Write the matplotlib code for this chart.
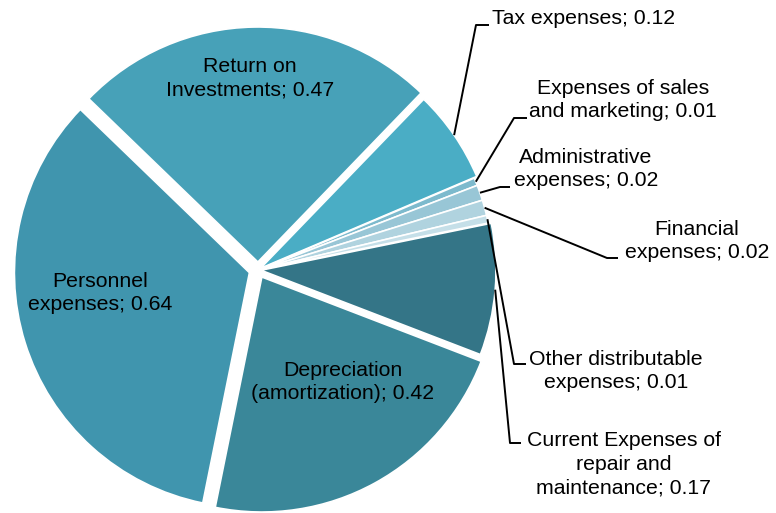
import numpy as np
import matplotlib.pyplot as plt

# slices, clockwise starting from the top
labels = ['Return on\nInvestments', 'Tax expenses', 'Expenses of sales\nand marketing',
          'Administrative\nexpenses', 'Financial\nexpenses', 'Other distributable\nexpenses',
          'Current Expenses of\nrepair and\nmaintenance', 'Depreciation\n(amortization)',
          'Personnel\nexpenses']
values = [0.47, 0.12, 0.01, 0.02, 0.02, 0.01, 0.17, 0.42, 0.64]
colors = ['#47A1B8', '#4AADC5', '#7DBACD', '#98C6D6', '#B0D3DF', '#C5DFE8',
          '#347587', '#3A8799', '#4095AE']
explode = [8, 3, 0, 0, 0, 0, 3, 8, 9]

plt.rcParams['font.family'] = ['Liberation Sans', 'DejaVu Sans']
FS = 15.3
LS = 1.3

fig = plt.figure(figsize=(7.76, 5.13), dpi=100)
ax = fig.add_axes([0, 0, 1, 1])
H = 513
cx, cy, R = 258, H - 270, 235
wedges, _ = ax.pie(values, colors=colors, explode=explode, startangle=136,
                   counterclock=False, radius=R, center=(cx, cy), frame=True,
                   wedgeprops=dict(edgecolor='white', linewidth=1.2))
ax.set_xlim(0, 776)
ax.set_ylim(0, H)
ax.set_aspect('equal')
ax.axis('off')

def txt(i):
    return '%s; %.2f' % (labels[i], values[i])

# labels inside the big slices (pixel pos, top-down)
inside = {0: (250, 78), 8: (100, 293), 7: (343, 382)}
for i, (x, y) in inside.items():
    ax.text(x, H - y, txt(i), ha='center', va='center', fontsize=FS, linespacing=LS)

# outer labels with leader lines: elbow, end of line, text anchor
outer = {
    1: ((476, 25), (489, 25), (492, 18), 'left'),
    2: ((514, 118), (527, 118), (623, 100), 'center'),
    3: ((500, 187), (510, 187), (586, 169), 'center'),
    4: ((607, 258), (618, 258), (697, 241), 'center'),
    5: ((514, 364), (526, 364), (616, 371), 'center'),
    6: ((510, 443), (521, 443), (624, 464), 'center'),
}
for i, (elb, end, tp, ha) in outer.items():
    w = wedges[i]
    th = np.deg2rad((w.theta1 + w.theta2) / 2)
    x0 = w.center[0] + w.r * np.cos(th)
    y0 = w.center[1] + w.r * np.sin(th)
    ax.plot([x0, elb[0], end[0]], [y0, H - elb[1], H - end[1]], color='black', lw=1.4,
            solid_capstyle='butt')
    ax.text(tp[0], H - tp[1], txt(i), ha=ha, va='center', fontsize=FS,
            linespacing=LS, multialignment='center')

fig.savefig('out.png', dpi=100)
